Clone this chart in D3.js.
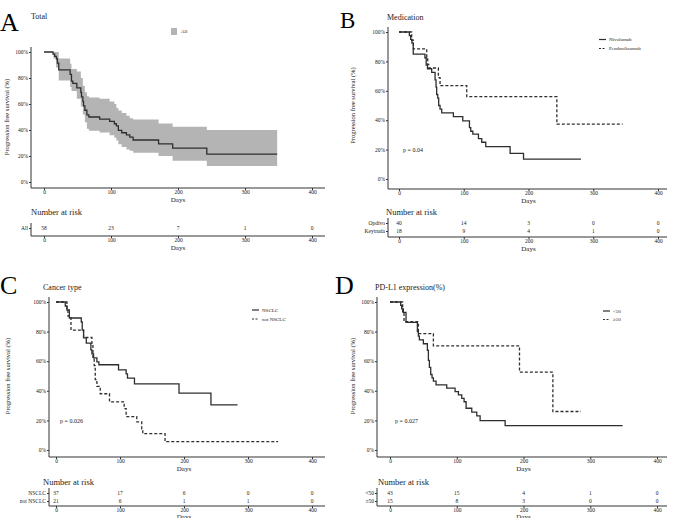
<!DOCTYPE html>
<html>
<head>
<meta charset="utf-8">
<script src="https://cdn.jsdelivr.net/npm/d3@7"></script>
<style>
  body { margin: 0; background: #fff; }
  svg text { font-family: "Liberation Serif", "DejaVu Serif", serif; fill: #1a1a1a; }
</style>
</head>
<body>
<svg id="chart" width="673" height="518"></svg>
<script>
/// Data
var dayTicks = [0, 100, 200, 300, 400];
var survTicks = [0, 20, 40, 60, 80, 100];

// A - Total
var totalDays = [0,13.5,16,18.5,20,22,39,41,43,49,55,56,58,59,61,64,67,83,98,105,108,111,116,123,128,133,171,192,243,348];
var totalSurv = [100,98.3,96.6,94.8,91.4,86.2,82.8,77.6,75.9,72.4,69,65.5,62,58.6,55.2,51.7,50,48.3,46.6,44.8,43.1,39.7,37.9,36.2,34.5,32.3,29.3,26.1,21.5,21.5];
var bandDays  = [0,14,18,22,39,41,49,55,58,61,64,67,83,98,105,108,111,116,123,128,133,171,192,243,348];
var bandUpper = [100,100,100,95,91,87,85,80,74,69,66,65,64,62,60,57,55,53,51,49,48,45,42.5,40,40];
var bandLower = [100,95,88,78,73,70,64,58,52,46,41,39.5,38,36,34,32,29,27,25,24,22.5,20,16.3,12.3,12.3];
var riskAll = [58, 23, 7, 1, 0];

// B - Medication
var nivoDays = [0,16,18,20,22,40,42,44,50.5,55.7,57.2,58.2,59.8,61.3,63.4,66,84,98.5,108.8,110.8,114,122.7,127.8,134,171.6,192.3,281];
var nivoSurv = [100,97.5,95,92.5,85,82.5,77.5,75,72.5,67.5,62.5,57.5,55,50,47.5,45,42.5,39.5,35,32.5,30.5,27.5,25,22,17.5,13.5,13.5];
var pembroDays = [0,19.6,22.2,42.8,44.3,45.9,60.8,63.4,104.6,243.8,345.4];
var pembroSurv = [100,94.4,88.5,83.3,78,75.5,69,63.5,56,37.3,37.3];
var riskOpdivo = [40, 14, 3, 0, 0];
var riskKeytruda = [18, 9, 4, 1, 0];

// C - Cancer type
var nsclcDays = [0,14.5,17.1,20.8,39.5,41,43.1,47.3,54.5,56.1,58.7,63.9,67,97.7,109.6,111.7,122.6,192.2,242.1,283.6];
var nsclcSurv = [100,97.3,94.6,89.2,86.5,81,75.7,72.2,67.6,64.9,62.2,59.5,57.6,54.2,51.4,48.5,44.7,38.4,30.5,30.5];
var notDays = [0,17.1,18.7,23.4,43.1,56.1,57.7,59.7,61.3,63.9,69.1,83.6,106.5,109.6,126.2,134,135.6,170.4,347];
var notSurv = [100,95.2,90.5,81,76,71.4,62,57,47.6,43,38,32.5,28,22.5,19,14.3,11,5.6,5.6];
var riskNsclc = [37, 17, 6, 0, 0];
var riskNot = [21, 6, 1, 1, 0];

// D - PD-L1 expression
var lowDays = [0,16,17.5,20,24,41,42.5,44,50,56,57.5,59,61,63,65,69,85,97.5,102.5,107.5,111,114,122.5,130,135,172.5,348.5];
var lowSurv = [100,97.7,95.3,93,86.2,80,77,74.4,71.8,67.4,60.5,55.8,51,48.8,46.5,44,41.8,39.5,37.2,34.9,32.6,28.2,25.6,23,19.8,16.5,16.5];
var highDays = [0,19,21,42.5,43.5,65,194,244,286];
var highSurv = [100,93.3,86.7,80,78.6,70.4,52.6,26,26];
var riskLow = [43, 15, 4, 1, 0];
var riskHigh = [15, 8, 3, 0, 0];

var ink = "#333";
var svg = d3.select("#chart");

function zip(days, surv) {
  return days.map(function(d, i) { return { t: d, s: surv[i] }; });
}

/// One panel: KM curves + risk table
function panel(cfg) {
  var g = svg.append("g");
  var x = d3.scaleLinear().domain([0, 400]).range([cfg.x0, cfg.x400]);
  var y = d3.scaleLinear().domain([0, 100]).range([cfg.y0, cfg.y100]);

  g.append("text").attr("x", cfg.letterX).attr("y", cfg.letterY)
    .style("font-size", cfg.letterSize + "px").style("fill", "#000").text(cfg.letter);
  g.append("text").attr("x", cfg.titleX).attr("y", cfg.titleY)
    .style("font-size", "8px").text(cfg.title);

  // band (confidence interval)
  if (cfg.band) {
    var bd = cfg.band.days.map(function(d, i) {
      return { t: d, lo: cfg.band.lower[i], hi: cfg.band.upper[i] };
    });
    g.append("path").datum(bd)
      .attr("d", d3.area().curve(d3.curveStepAfter)
        .x(function(d) { return x(d.t); })
        .y0(function(d) { return y(d.lo); })
        .y1(function(d) { return y(d.hi); }))
      .style("fill", "#b4b4b4").style("stroke", "none");
  }

  var line = d3.line().curve(d3.curveStepAfter)
    .x(function(d) { return x(d.t); })
    .y(function(d) { return y(d.s); });
  cfg.curves.forEach(function(c) {
    g.append("path").datum(zip(c.days, c.surv))
      .attr("d", line)
      .style("fill", "none").style("stroke", "#2e2e2e")
      .style("stroke-width", 1.3)
      .style("stroke-dasharray", c.dash ? "3,2" : null);
  });

  // axes
  var yAx = g.append("g").attr("transform", "translate(" + cfg.yAxisX + ",0)")
    .call(d3.axisLeft(y).tickValues(survTicks).tickSize(2).tickPadding(1)
      .tickFormat(function(d) { return d + "%"; }));
  yAx.select(".domain").attr("d", "M0," + (cfg.y100 - 5) + "V" + cfg.xAxisY);
  var xAx = g.append("g").attr("transform", "translate(0," + cfg.xAxisY + ")")
    .call(d3.axisBottom(x).tickValues(dayTicks).tickSize(2).tickPadding(0));
  xAx.select(".domain").attr("d", "M" + cfg.yAxisX + ",0H" + cfg.xEnd);
  [yAx, xAx].forEach(function(a) {
    a.selectAll("text").style("font-size", "5.5px").style("font-family", null);
    a.selectAll("line, path").style("stroke", ink);
  });
  g.append("text").attr("x", x(200)).attr("y", cfg.xAxisY + 13.5)
    .attr("text-anchor", "middle").style("font-size", "7px").text("Days");
  g.append("text")
    .attr("transform", "translate(" + cfg.ylabX + "," + ((cfg.y0 + cfg.y100) / 2) + ") rotate(-90)")
    .attr("text-anchor", "middle").attr("dy", "0.35em")
    .style("font-size", "6.5px").text("Progression free survival (%)");

  // legend
  var lg = cfg.legend;
  if (lg.fill) {
    g.append("rect").attr("x", lg.x).attr("y", lg.y - 3.5).attr("width", 6).attr("height", 7)
      .style("fill", "#b4b4b4");
    g.append("text").attr("x", lg.x + 10).attr("y", lg.y).attr("dy", "0.35em")
      .style("font-size", "5px").text(lg.labels[0]);
  } else {
    lg.labels.forEach(function(lab, i) {
      var ly = lg.y + i * lg.gap;
      g.append("line").attr("x1", lg.x).attr("x2", lg.x + 7).attr("y1", ly).attr("y2", ly)
        .style("stroke", "#2e2e2e").style("stroke-width", 1.2)
        .style("stroke-dasharray", i ? "2,1.5" : null);
      g.append("text").attr("x", lg.x + 10).attr("y", ly).attr("dy", "0.35em")
        .style("font-size", "5px").text(lab);
    });
  }
  if (cfg.p) {
    g.append("text").attr("x", cfg.pX).attr("y", cfg.pY).attr("dy", "0.35em")
      .style("font-size", "6px").text(cfg.p);
  }

  // risk table
  var r = cfg.risk;
  g.append("text").attr("x", r.titleX).attr("y", r.titleY).attr("dy", "0.35em")
    .style("font-size", "8.5px").text("Number at risk");
  var rowY = d3.scalePoint().domain(r.names).range(r.rowYs);
  r.names.forEach(function(name, i) {
    g.selectAll(null).data(r.counts[i]).enter().append("text")
      .attr("x", function(d, j) { return x(dayTicks[j]); })
      .attr("y", rowY(name)).attr("dy", "0.35em")
      .attr("text-anchor", "middle").style("font-size", "5.5px")
      .text(function(d) { return d; });
  });
  var ry = g.append("g").attr("transform", "translate(" + cfg.yAxisX + ",0)")
    .call(d3.axisLeft(rowY).tickSize(2).tickPadding(1));
  ry.select(".domain").attr("d", "M0," + (r.rowYs[0] - 5) + "V" + r.axisY);
  var rx = g.append("g").attr("transform", "translate(0," + r.axisY + ")")
    .call(d3.axisBottom(x).tickValues(dayTicks).tickSize(2).tickPadding(0));
  rx.select(".domain").attr("d", "M" + cfg.yAxisX + ",0H" + cfg.xEnd);
  [ry, rx].forEach(function(a) {
    a.selectAll("text").style("font-size", "5.5px").style("font-family", null);
    a.selectAll("line, path").style("stroke", ink);
  });
  // bottom panels: "Days" sits on the page edge, as in the source
  g.append("text").attr("x", x(200)).attr("y", Math.min(r.axisY + 13.5, 518.5))
    .attr("text-anchor", "middle").style("font-size", "7px").text("Days");
}

panel({
  letter: "A", letterX: 0, letterY: 31, letterSize: 26,
  title: "Total", titleX: 31, titleY: 19,
  x0: 44, x400: 312, y0: 182, y100: 52, yAxisX: 31, xAxisY: 188, xEnd: 325, ylabX: 7,
  band: { days: bandDays, upper: bandUpper, lower: bandLower },
  curves: [{ days: totalDays, surv: totalSurv }],
  legend: { fill: true, x: 171, y: 31.5, labels: ["All"] },
  risk: { titleX: 31, titleY: 212, rowYs: [228, 228], axisY: 236,
          names: ["All"], counts: [riskAll] }
});

panel({
  letter: "B", letterX: 340, letterY: 28, letterSize: 23,
  title: "Medication", titleX: 387, titleY: 20,
  x0: 399, x400: 658, y0: 179, y100: 32, yAxisX: 388, xAxisY: 189, xEnd: 667, ylabX: 353,
  curves: [{ days: nivoDays, surv: nivoSurv }, { days: pembroDays, surv: pembroSurv, dash: true }],
  legend: { x: 599, y: 39.5, gap: 9, labels: ["Nivolumab", "Pembrolizumab"] },
  p: "p = 0.04", pX: 403, pY: 150,
  risk: { titleX: 386, titleY: 212, rowYs: [223, 231], axisY: 237,
          names: ["Opdivo", "Keytruda"], counts: [riskOpdivo, riskKeytruda] }
});

panel({
  letter: "C", letterX: 0, letterY: 294, letterSize: 26,
  title: "Cancer type", titleX: 43, titleY: 290,
  x0: 56, x400: 312, y0: 450, y100: 302, yAxisX: 49, xAxisY: 457, xEnd: 325, ylabX: 8,
  curves: [{ days: nsclcDays, surv: nsclcSurv }, { days: notDays, surv: notSurv, dash: true }],
  legend: { x: 252, y: 310, gap: 9, labels: ["NSCLC", "not NSCLC"] },
  p: "p = 0.026", pX: 60, pY: 421,
  risk: { titleX: 43, titleY: 482, rowYs: [493, 501], axisY: 506,
          names: ["NSCLC", "not NSCLC"], counts: [riskNsclc, riskNot] }
});

panel({
  letter: "D", letterX: 335, letterY: 294, letterSize: 26,
  title: "PD-L1 expression(%)", titleX: 375, titleY: 290,
  x0: 390, x400: 657, y0: 450, y100: 302, yAxisX: 377, xAxisY: 457, xEnd: 667, ylabX: 353,
  curves: [{ days: lowDays, surv: lowSurv }, { days: highDays, surv: highSurv, dash: true }],
  legend: { x: 603, y: 311, gap: 8.5, labels: ["<50", "\u226550"] },
  p: "p = 0.027", pX: 395, pY: 421,
  risk: { titleX: 378, titleY: 482, rowYs: [493, 501], axisY: 506,
          names: ["<50", "\u226550"], counts: [riskLow, riskHigh] }
});
</script>
</body>
</html>
